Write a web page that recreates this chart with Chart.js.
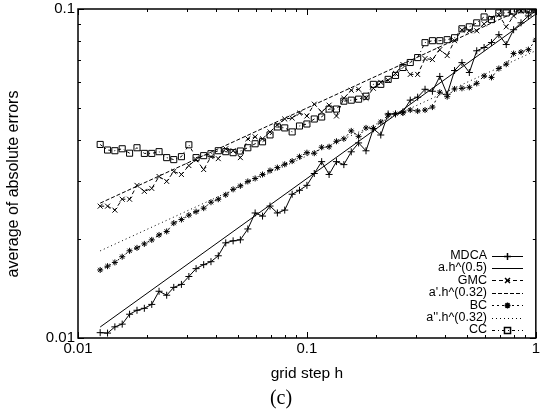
<!DOCTYPE html>
<html>
<head>
<meta charset="utf-8">
<script src="https://cdn.jsdelivr.net/npm/chart.js@4/dist/chart.umd.min.js"></script>
<style>
  html, body { margin: 0; padding: 0; background: #fff; }
</style>
</head>
<body>
<canvas id="chart" width="543" height="411"></canvas>
<script>
// grid step h (x values of the measured series)
const gridStep = [0.0125, 0.01346, 0.01449, 0.0156, 0.0168, 0.0181, 0.01949, 0.0210, 0.0226, 0.0244,
  0.0262, 0.0283, 0.0305, 0.0328, 0.0354, 0.0381, 0.0410, 0.0442, 0.0476, 0.0512,
  0.0552, 0.0594, 0.0640, 0.0690, 0.0743, 0.0800, 0.0862, 0.0928, 0.1000, 0.1077,
  0.1160, 0.1250, 0.1346, 0.1450, 0.1562, 0.1682, 0.1812, 0.1951, 0.2102, 0.2264,
  0.2438, 0.2626, 0.2828, 0.3046, 0.3281, 0.3534, 0.3806, 0.4100, 0.4416, 0.4756,
  0.5123, 0.5518, 0.5943, 0.6401, 0.6895, 0.7426, 0.7998, 0.8615, 0.9279, 1.0];

const mdca = [0.01038, 0.01035, 0.01081, 0.01102, 0.01181, 0.01214, 0.01231, 0.01265, 0.01387, 0.01349,
  0.01425, 0.01455, 0.01538, 0.01625, 0.01671, 0.01706, 0.01778, 0.01946, 0.01974, 0.01988,
  0.02145, 0.02399, 0.02347, 0.02518, 0.02399, 0.02448, 0.02735, 0.02812, 0.02911, 0.03162,
  0.03436, 0.03141, 0.03436, 0.03365, 0.03681, 0.03917, 0.03707, 0.04325, 0.04140, 0.04797,
  0.04797, 0.04864, 0.05284, 0.05395, 0.05702, 0.05623, 0.06237, 0.05508, 0.06501, 0.06871,
  0.06412, 0.07464, 0.07638, 0.07907, 0.08356, 0.07798, 0.08650, 0.09078, 0.09528, 0.09863];

const gmc = [0.02516, 0.02516, 0.02447, 0.02641, 0.02641, 0.02910, 0.02791, 0.02849, 0.03097, 0.02992,
  0.03206, 0.03141, 0.03343, 0.03485, 0.03251, 0.03558, 0.03509, 0.03760, 0.03709, 0.03534,
  0.04031, 0.04087, 0.04031, 0.04231, 0.04442, 0.04631, 0.04663, 0.04828, 0.04729, 0.05137,
  0.04862, 0.05102, 0.04729, 0.05356, 0.05662, 0.05702, 0.05356, 0.05741, 0.05985, 0.06069,
  0.06371, 0.06780, 0.06327, 0.06327, 0.07068, 0.07019, 0.07525, 0.07218, 0.08011, 0.08643,
  0.08584, 0.08584, 0.09012, 0.09395, 0.09592, 0.08828, 0.09526, 0.09862, 0.09794, 0.10000];

const bc = [0.01610, 0.01653, 0.01697, 0.01766, 0.01841, 0.01879, 0.01932, 0.01987, 0.02057, 0.02108,
  0.02235, 0.02291, 0.02363, 0.02421, 0.02481, 0.02587, 0.02641, 0.02724, 0.02830, 0.02900,
  0.02992, 0.03054, 0.03141, 0.03228, 0.03296, 0.03373, 0.03449, 0.03558, 0.03658, 0.03645,
  0.03800, 0.03813, 0.03962, 0.04031, 0.04261, 0.04102, 0.04351, 0.04336, 0.04535, 0.04761,
  0.04804, 0.04828, 0.04930, 0.04896, 0.04930, 0.05034, 0.05585, 0.05413, 0.05714, 0.05741,
  0.05781, 0.05943, 0.06260, 0.06195, 0.06595, 0.06795, 0.07320, 0.07396, 0.07525, 0.08049];

const cc = [0.03875, 0.03727, 0.03709, 0.03760, 0.03645, 0.03787, 0.03640, 0.03640, 0.03684, 0.03534,
  0.03485, 0.03558, 0.03866, 0.03534, 0.03583, 0.03633, 0.03709, 0.03684, 0.03658, 0.03701,
  0.03787, 0.03894, 0.03948, 0.04143, 0.04380, 0.04351, 0.04231, 0.04410, 0.04472, 0.04631,
  0.04696, 0.04965, 0.04965, 0.05246, 0.05283, 0.05320, 0.05431, 0.05902, 0.05902, 0.06111,
  0.06283, 0.06641, 0.06877, 0.07118, 0.07901, 0.08011, 0.08011, 0.08067, 0.08178, 0.08706,
  0.08828, 0.09075, 0.09460, 0.09286, 0.09727, 0.09727, 0.09862, 0.09950, 0.09950, 0.09950];

// fitted power laws, evaluated at the ends of the h range
const fitH = [0.0125, 1];
const fitHalf = [0.0108, 0.0965];      // a.h^(0.5)
const fitGmc = [0.0257, 0.1045];       // a'.h^(0.32)
const fitBc = [0.0184, 0.0747];        // a''.h^(0.32)

const xTickValues = [0.01, 0.02, 0.03, 0.04, 0.05, 0.06, 0.07, 0.08, 0.09,
  0.1, 0.2, 0.3, 0.4, 0.5, 0.6, 0.7, 0.8, 0.9, 1];
const yTickValues = [0.01, 0.02, 0.03, 0.04, 0.05, 0.06, 0.07, 0.08, 0.09, 0.1];
const decadeLabels = { '-2': '0.01', '-1': '0.1', '0': '1' };
const yTitle = 'average of absolute errors';

function isDecade(v) {
  const l = Math.log10(v);
  return Math.abs(l - Math.round(l)) < 1e-9;
}
function tickLabel(v) {
  return isDecade(v) ? (decadeLabels[String(Math.round(Math.log10(v)))] || '') : '';
}
function pts(xs, ys) {
  return xs.map((x, i) => ({ x: x, y: ys[i] }));
}

// gnuplot-like frame, inward tics, y label and key
const framePlugin = {
  id: 'frame',
  afterDatasetsDraw(chart) {
    const { ctx, chartArea: a, scales } = chart;
    ctx.save();
    ctx.strokeStyle = '#000';
    ctx.lineWidth = 1;
    ctx.beginPath();
    scales.x.ticks.forEach(t => {
      const p = Math.round(scales.x.getPixelForValue(t.value)) + 0.5;
      const len = isDecade(t.value) ? 6 : 3;
      ctx.moveTo(p, a.bottom); ctx.lineTo(p, a.bottom - len);
      ctx.moveTo(p, a.top); ctx.lineTo(p, a.top + len);
    });
    scales.y.ticks.forEach(t => {
      const p = Math.round(scales.y.getPixelForValue(t.value)) + 0.5;
      const len = isDecade(t.value) ? 6 : 3;
      ctx.moveTo(a.left, p); ctx.lineTo(a.left + len, p);
      ctx.moveTo(a.right, p); ctx.lineTo(a.right - len, p);
    });
    ctx.stroke();
    ctx.lineWidth = 1.5;
    ctx.strokeRect(a.left, a.top, a.right - a.left, a.bottom - a.top);

    // y axis label, gnuplot places it a bit below the middle
    ctx.save();
    ctx.translate(14, 184);
    ctx.rotate(-Math.PI / 2);
    ctx.font = '16px "Liberation Sans"';
    ctx.textAlign = 'center';
    ctx.textBaseline = 'middle';
    ctx.fillStyle = '#000';
    ctx.fillText(yTitle, 0, 0);
    ctx.restore();

    // key
    ctx.font = '12.5px "Liberation Sans"';
    ctx.textAlign = 'right';
    ctx.textBaseline = 'middle';
    ctx.fillStyle = '#000';
    chart.data.datasets.forEach((ds, i) => {
      const y = 255.5 + i * 12.4;
      ctx.fillText(ds.label, 487, y);
      ctx.save();
      ctx.lineWidth = 1;
      ctx.setLineDash(ds.borderDash || []);
      ctx.beginPath();
      ctx.moveTo(492, Math.round(y) + 0.5);
      ctx.lineTo(523, Math.round(y) + 0.5);
      ctx.stroke();
      ctx.restore();
      if (ds.pointRadius > 0) {
        ctx.save();
        ctx.setLineDash([]);
        ctx.strokeStyle = '#000';
        ctx.fillStyle = 'rgba(0,0,0,0)';
        Chart.helpers.drawPoint(ctx, {
          pointStyle: ds.pointStyle, radius: ds.pointRadius, rotation: 0, borderWidth: 1
        }, 507.5, Math.round(y) + 0.5);
        ctx.restore();
      }
    });
    ctx.restore();
  }
};

Chart.defaults.font.family = '"Liberation Sans", Arial, sans-serif';
Chart.defaults.color = '#000';

function measured(label, ys, style, dash, radius) {
  return {
    label: label,
    data: pts(gridStep, ys),
    borderColor: '#000',
    backgroundColor: 'rgba(0,0,0,0)',
    borderWidth: 1,
    borderDash: dash,
    pointStyle: style,
    pointRadius: radius,
    pointBorderWidth: 1,
    pointBorderColor: '#000',
    tension: 0
  };
}
function fitted(label, ys, dash) {
  return {
    label: label,
    data: pts(fitH, ys),
    borderColor: '#000',
    borderWidth: 1,
    borderDash: dash,
    pointRadius: 0,
    tension: 0
  };
}

new Chart(document.getElementById('chart'), {
  type: 'line',
  data: {
    datasets: [
      measured('MDCA', mdca, 'cross', [], 3.5),
      fitted('a.h^(0.5)', fitHalf, []),
      measured('GMC', gmc, 'crossRot', [4, 3], 3.5),
      fitted('a\'.h^(0.32)', fitGmc, [4, 2]),
      measured('BC', bc, 'star', [2, 3], 3),
      fitted('a\'\'.h^(0.32)', fitBc, [1, 3]),
      measured('CC', cc, 'rect', [3, 3, 1, 3], 4.3)
    ]
  },
  options: {
    responsive: false,
    animation: false,
    devicePixelRatio: 1,
    layout: { padding: { left: 26, right: 7, top: 6, bottom: 0 } },
    plugins: {
      legend: { display: false },
      tooltip: { enabled: false },
      title: {
        display: true,
        text: '(c)',
        position: 'bottom',
        font: { family: '"Liberation Serif", "Times New Roman", serif', size: 20, weight: 'normal' },
        padding: { top: 0, bottom: 0 }
      }
    },
    scales: {
      x: {
        type: 'logarithmic',
        min: 0.01,
        max: 1,
        grid: { display: false, drawTicks: false },
        border: { display: false },
        afterBuildTicks: s => { s.ticks = xTickValues.map(v => ({ value: v, major: isDecade(v) })); },
        afterFit: s => { s.height = 49; },
        ticks: {
          autoSkip: false, maxRotation: 0, padding: 3,
          font: { size: 15, lineHeight: 1 },
          callback: v => tickLabel(v)
        },
        title: {
          display: true, text: 'grid step h',
          font: { size: 15.5, lineHeight: 1.2 },
          padding: { top: 0, bottom: 4 }
        }
      },
      y: {
        type: 'logarithmic',
        min: 0.01,
        max: 0.1,
        grid: { display: false, drawTicks: false },
        border: { display: false },
        afterBuildTicks: s => { s.ticks = yTickValues.map(v => ({ value: v, major: isDecade(v) })); },
        afterFit: s => { s.width = 52; },
        ticks: {
          autoSkip: false, padding: 3,
          font: { size: 15, lineHeight: 0.8 },
          callback: v => tickLabel(v)
        }
      }
    }
  },
  plugins: [framePlugin]
});
</script>
</body>
</html>
